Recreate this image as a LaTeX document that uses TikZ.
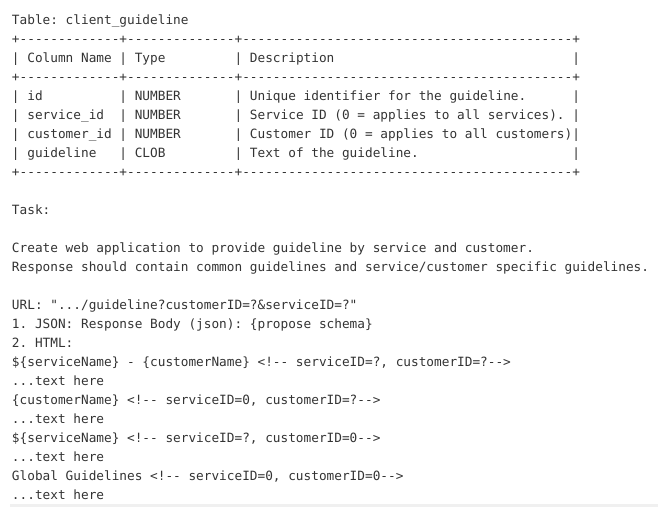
\documentclass[tikz,border=0pt]{standalone}
\usepackage{fontspec}
\setmonofont{DejaVu Sans Mono}
\ExplSyntaxOn
\cs_new:Npn \sps #1 {\prg_replicate:nn{#1}{\nobreakspace}}
\cs_new:Npn \dsh #1 {\prg_replicate:nn{#1}{-}}
\ExplSyntaxOff
\definecolor{txt}{HTML}{333333}
\definecolor{strip}{HTML}{F0F0F0}
\newcommand\tblrule{+\dsh{13}+\dsh{14}+\dsh{43}+}
\begin{document}
\begin{tikzpicture}[x=1pt,y=-1pt,
  ln/.style={anchor=base west, inner sep=0pt, outer sep=0pt, text=txt,
    font=\ttfamily\fontsize{12.75}{15}\selectfont\frenchspacing}]
\useasboundingbox (0,0) rectangle (658,507);
\fill[strip] (10,504) rectangle (658,507);
\node[ln] (l1)  at (12,24.3)  {Table: client\_guideline};
\node[ln] (l2)  at (12,43.3)  {\tblrule};
\node[ln] (l3)  at (12,62.3)  {|~Column~Name~|~Type\sps{9}|~Description\sps{31}|};
\node[ln] (l4)  at (12,81.3)  {\tblrule};
\node[ln] (l5)  at (12,100.3) {|~id\sps{10}|~NUMBER\sps{7}|~Unique identifier for the guideline.\sps{6}|};
\node[ln] (l6)  at (12,119.3) {|~service\_id\sps{2}|~NUMBER\sps{7}|~Service ID (0 = applies to all services).~|};
\node[ln] (l7)  at (12,138.3) {|~customer\_id~|~NUMBER\sps{7}|~Customer ID (0 = applies to all customers)|};
\node[ln] (l8)  at (12,157.3) {|~guideline\sps{3}|~CLOB\sps{9}|~Text of the guideline.\sps{20}|};
\node[ln] (l9)  at (12,176.3) {\tblrule};
\node[ln] (l11) at (12,214.3) {Task:};
\node[ln] (l13) at (12,252.3) {Create web application to provide guideline by service and customer.};
\node[ln] (l14) at (12,271.3) {Response should contain common guidelines and service/customer specific guidelines.};
\node[ln] (l16) at (12,309.3) {URL: ".../guideline?customerID=?\&serviceID=?"};
\node[ln] (l17) at (12,328.3) {1. JSON: Response Body (json): \{propose schema\}};
\node[ln] (l18) at (12,347.3) {2. HTML:};
\node[ln] (l19) at (12,366.3) {\$\{serviceName\} - \{customerName\} <!-- serviceID=?, customerID=?-->};
\node[ln] (l20) at (12,385.3) {...text here};
\node[ln] (l21) at (12,404.3) {\{customerName\} <!-- serviceID=0, customerID=?-->};
\node[ln] (l22) at (12,423.3) {...text here};
\node[ln] (l23) at (12,442.3) {\$\{serviceName\} <!-- serviceID=?, customerID=0-->};
\node[ln] (l24) at (12,461.3) {...text here};
\node[ln] (l25) at (12,480.3) {Global Guidelines <!-- serviceID=0, customerID=0-->};
\node[ln] (l26) at (12,499.3) {...text here};
\end{tikzpicture}
\end{document}
